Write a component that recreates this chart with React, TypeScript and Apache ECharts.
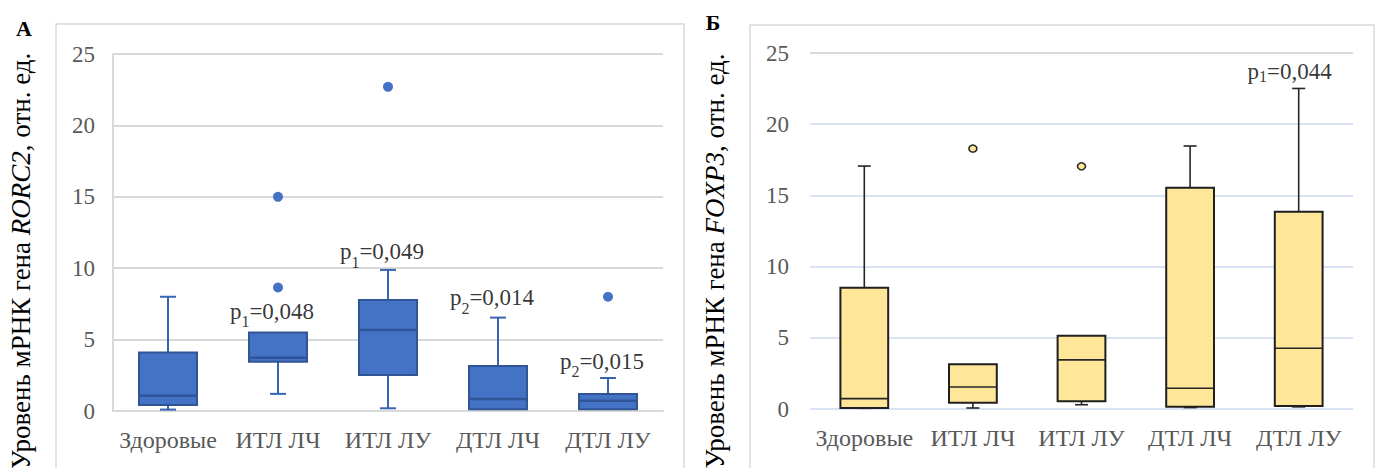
import React, { useEffect, useRef } from 'react';
import * as echarts from 'echarts';

const categories = ['Здоровые', 'ИТЛ ЛЧ', 'ИТЛ ЛУ', 'ДТЛ ЛЧ', 'ДТЛ ЛУ'];
const yMin = 0;
const yMax = 25;
const yInterval = 5;

// Panel A: RORC2
const rorc2Min = [0.1, 1.2, 0.19, 0.12, 0.12];
const rorc2Q1 = [0.42, 3.45, 2.52, 0.12, 0.12];
const rorc2Median = [1.07, 3.73, 5.68, 0.84, 0.72];
const rorc2Q3 = [4.1, 5.5, 7.78, 3.15, 1.19];
const rorc2Max = [8.0, 5.5, 9.88, 6.54, 2.31];
const rorc2Outliers = [[1, 8.65], [1, 15.0], [2, 22.7], [4, 8.0]];
const rorc2PCat = [1, 2, 3, 4];
const rorc2PY = [7.0, 11.14, 7.92, 3.47];
const rorc2PIndex = ['1', '1', '2', '2'];
const rorc2PValue = ['0,048', '0,049', '0,014', '0,015'];

// Panel Б: FOXP3
const foxp3Min = [0.05, 0.07, 0.3, 0.1, 0.15];
const foxp3Q1 = [0.07, 0.44, 0.54, 0.16, 0.21];
const foxp3Median = [0.73, 1.55, 3.45, 1.46, 4.27];
const foxp3Q3 = [8.52, 3.15, 5.14, 15.54, 13.85];
const foxp3Max = [17.06, 3.15, 5.14, 18.47, 22.51];
const foxp3Outliers = [[1, 18.29], [2, 17.04]];
const foxp3PCat = [4];
const foxp3PY = [23.7];
const foxp3PIndex = ['1'];
const foxp3PValue = ['0,044'];

const serif = 'Liberation Serif';

function buildBoxData(mn: number[], q1: number[], md: number[], q3: number[], mx: number[]) {
  return categories.map((_, i) => [i, mn[i], q1[i], md[i], q3[i], mx[i]]);
}

function makeRender(cfg: { boxRatio: number; capRatio: number; fill: string; stroke: string; boxWidth: number; whisker: string; whiskerWidth: number; median: string; medianWidth: number }) {
  return (params: any, api: any) => {
    const idx = api.value(0);
    const vMin = api.value(1);
    const q1 = api.value(2);
    const med = api.value(3);
    const q3 = api.value(4);
    const vMax = api.value(5);
    const band = api.size([1, 0])[0];
    const bw = band * cfg.boxRatio;
    const cw = band * cfg.capRatio;
    const pMin = api.coord([idx, vMin]);
    const pQ1 = api.coord([idx, q1]);
    const pMed = api.coord([idx, med]);
    const pQ3 = api.coord([idx, q3]);
    const pMax = api.coord([idx, vMax]);
    const x = pMin[0];
    const wStyle = { stroke: cfg.whisker, lineWidth: cfg.whiskerWidth };
    const children: any[] = [];
    if (vMax > q3) {
      children.push({ type: 'line', shape: { x1: x, y1: pQ3[1], x2: x, y2: pMax[1] }, style: wStyle });
      children.push({ type: 'line', shape: { x1: x - cw / 2, y1: pMax[1], x2: x + cw / 2, y2: pMax[1] }, style: wStyle });
    }
    if (vMin < q1) {
      children.push({ type: 'line', shape: { x1: x, y1: pQ1[1], x2: x, y2: pMin[1] }, style: wStyle });
      children.push({ type: 'line', shape: { x1: x - cw / 2, y1: pMin[1], x2: x + cw / 2, y2: pMin[1] }, style: wStyle });
    }
    children.push({
      type: 'rect',
      shape: { x: x - bw / 2, y: pQ3[1], width: bw, height: pQ1[1] - pQ3[1] },
      style: { fill: cfg.fill, stroke: cfg.stroke, lineWidth: cfg.boxWidth },
    });
    children.push({
      type: 'line',
      shape: { x1: x - bw / 2, y1: pMed[1], x2: x + bw / 2, y2: pMed[1] },
      style: { stroke: cfg.median, lineWidth: cfg.medianWidth },
    });
    return { type: 'group', children };
  };
}

function pLabelData(cats: number[], ys: number[], idxs: string[], vals: string[], sub: boolean) {
  return cats.map((c, i) => ({
    value: [c, ys[i]],
    label: {
      formatter: sub
        ? `{m|p}{s|${idxs[i]}}{m|=${vals[i]}}`
        : `{m|p}{k|${idxs[i]}}{m|=${vals[i]}}`,
      offset: sub ? [-6, 3.5] : [-9, 0.5],
    },
  }));
}

const pRich = {
  m: { fontFamily: serif, fontSize: 23, lineHeight: 24, color: '#000', verticalAlign: 'top' },
  s: { fontFamily: serif, fontSize: 16, lineHeight: 30, color: '#000', verticalAlign: 'bottom' },
  k: { fontFamily: serif, fontSize: 16, lineHeight: 22, color: '#000', verticalAlign: 'bottom' },
};

export default function App() {
  const ref = useRef<HTMLDivElement>(null);
  useEffect(() => {
    document.body.style.margin = '0';
    const chart = echarts.init(ref.current!, null, { renderer: 'svg' });
    const xAxisBase = {
      type: 'category',
      data: categories,
      axisTick: { show: false },
      axisLabel: { color: '#595959', fontFamily: serif, fontSize: 24, margin: 17, interval: 0 },
      splitLine: { show: false },
    };
    const yAxisBase = {
      type: 'value',
      min: yMin,
      max: yMax,
      interval: yInterval,
      axisTick: { show: false },
      axisLabel: { color: '#595959', fontFamily: serif, fontSize: 23, margin: 18 },
    };
    const titleRich = {
      i: { fontFamily: serif, fontSize: 27, fontStyle: 'italic', fill: '#000' },
      n: { fontFamily: serif, fontSize: 27, fill: '#000' },
    };
    const option: any = {
      animation: false,
      backgroundColor: '#ffffff',
      textStyle: { fontFamily: serif },
      grid: [
        { left: 113, right: 716, top: 54, bottom: 57 },
        { left: 810, right: 26, top: 53, bottom: 59 },
      ],
      xAxis: [
        { ...xAxisBase, gridIndex: 0, axisLine: { show: true, lineStyle: { color: '#d9d9d9', width: 2 } } },
        { ...xAxisBase, gridIndex: 1, axisLine: { show: false } },
      ],
      yAxis: [
        {
          ...yAxisBase,
          gridIndex: 0,
          axisLine: { show: true, lineStyle: { color: '#d9d9d9', width: 2 } },
          splitLine: { show: true, lineStyle: { color: '#d9d9d9', width: 2 } },
        },
        {
          ...yAxisBase,
          gridIndex: 1,
          axisLabel: { ...yAxisBase.axisLabel, margin: 21 },
          axisLine: { show: false },
          splitLine: {
            show: true,
            lineStyle: { color: ['#dae3f3', '#dae3f3', '#dae3f3', '#dae3f3', '#dae3f3', '#d9d9d9'], width: 2 },
          },
        },
      ],
      series: [
        {
          type: 'custom',
          xAxisIndex: 0,
          yAxisIndex: 0,
          encode: { x: 0, y: [1, 2, 3, 4, 5] },
          data: buildBoxData(rorc2Min, rorc2Q1, rorc2Median, rorc2Q3, rorc2Max),
          renderItem: makeRender({
            boxRatio: 0.527, capRatio: 0.145, fill: '#4472c4', stroke: '#2f5597', boxWidth: 2,
            whisker: '#3763b3', whiskerWidth: 2, median: '#2f5597', medianWidth: 2.5,
          }),
        },
        {
          type: 'scatter',
          xAxisIndex: 0,
          yAxisIndex: 0,
          symbol: 'circle',
          symbolSize: 10,
          itemStyle: { color: '#4472c4', opacity: 1 },
          data: rorc2Outliers,
        },
        {
          type: 'scatter',
          xAxisIndex: 0,
          yAxisIndex: 0,
          symbolSize: 0,
          itemStyle: { color: 'transparent' },
          label: { show: true, position: 'inside', align: 'center', verticalAlign: 'middle', fontFamily: serif, rich: pRich },
          data: pLabelData(rorc2PCat, rorc2PY, rorc2PIndex, rorc2PValue, true),
          z: 10,
        },
        {
          type: 'custom',
          xAxisIndex: 1,
          yAxisIndex: 1,
          encode: { x: 0, y: [1, 2, 3, 4, 5] },
          data: buildBoxData(foxp3Min, foxp3Q1, foxp3Median, foxp3Q3, foxp3Max),
          renderItem: makeRender({
            boxRatio: 0.44, capRatio: 0.12, fill: '#ffe699', stroke: '#1f1f1f', boxWidth: 2,
            whisker: '#262626', whiskerWidth: 1.6, median: '#262626', medianWidth: 1.6,
          }),
        },
        {
          type: 'scatter',
          xAxisIndex: 1,
          yAxisIndex: 1,
          symbol: 'circle',
          symbolSize: [8, 7],
          itemStyle: { color: '#ffe699', borderColor: '#262626', borderWidth: 1.5, opacity: 1 },
          data: foxp3Outliers,
        },
        {
          type: 'scatter',
          xAxisIndex: 1,
          yAxisIndex: 1,
          symbolSize: 0,
          itemStyle: { color: 'transparent' },
          label: { show: true, position: 'inside', align: 'center', verticalAlign: 'middle', fontFamily: serif, rich: pRich },
          data: pLabelData(foxp3PCat, foxp3PY, foxp3PIndex, foxp3PValue, false),
          z: 10,
        },
      ],
      graphic: [
        { type: 'rect', z: -10, shape: { x: 56, y: 24, width: 628, height: 470 }, style: { fill: 'none', stroke: '#d9d9d9', lineWidth: 1.5 } },
        { type: 'rect', z: -10, shape: { x: 750, y: 25, width: 624, height: 470 }, style: { fill: 'none', stroke: '#d9d9d9', lineWidth: 1.5 } },
        { type: 'text', x: 24, y: 28, style: { text: 'А', font: `bold 22px ${serif}`, fill: '#000', align: 'center', verticalAlign: 'middle' } },
        { type: 'text', x: 713, y: 22, style: { text: 'Б', font: `bold 22px ${serif}`, fill: '#000', align: 'center', verticalAlign: 'middle' } },
        {
          type: 'text', x: 21, y: 261, rotation: Math.PI / 2,
          style: {
            text: '{n|Уровень мРНК гена }{i|RORC2}{n|, отн. ед.}', font: `27px ${serif}`, fill: '#000',
            align: 'center', verticalAlign: 'middle', rich: titleRich,
          },
        },
        {
          type: 'text', x: 715, y: 261, rotation: Math.PI / 2,
          style: {
            text: '{n|Уровень мРНК гена }{i|FOXP3}{n|, отн. ед.}', font: `27px ${serif}`, fill: '#000',
            align: 'center', verticalAlign: 'middle', rich: titleRich,
          },
        },
      ],
    };
    chart.setOption(option);
    return () => chart.dispose();
  }, []);
  return <div ref={ref} style={{ width: 1379, height: 468 }} />;
}
